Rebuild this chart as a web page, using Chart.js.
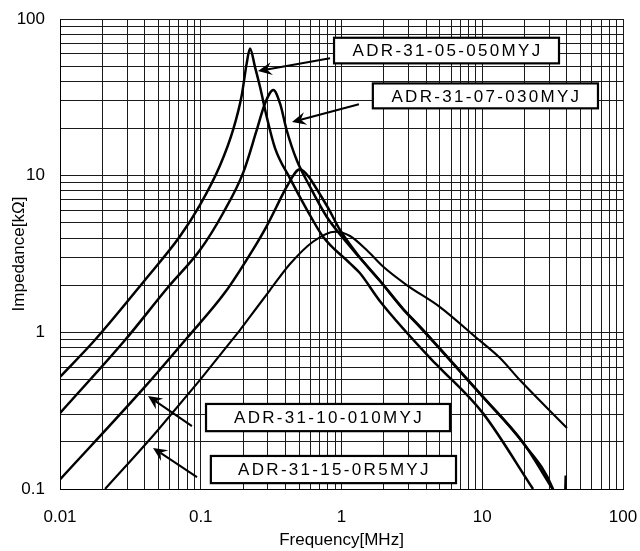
<!DOCTYPE html>
<html>
<head>
<meta charset="utf-8">
<script src="https://cdn.jsdelivr.net/npm/chart.js@4.4.0/dist/chart.umd.min.js"></script>
<style>
  html, body { margin: 0; padding: 0; background: #fff; }
  #wrap { width: 640px; height: 551px; }
</style>
</head>
<body>
<div id="wrap"><canvas id="chart"></canvas></div>
<script>
// --- values (frequency in MHz, impedance in kΩ) ---
const seriesNames = ['ADR-31-05-050MYJ', 'ADR-31-07-030MYJ', 'ADR-31-10-010MYJ', 'ADR-31-15-0R5MYJ'];

const freqA = [0.01, 0.0177, 0.0402, 0.0712, 0.0988, 0.137, 0.1703, 0.1954, 0.212, 0.2239, 0.2428, 0.2636, 0.2941, 0.337, 0.4305, 0.5658, 0.742, 1.149, 1.35, 1.877, 4.4, 5.01, 10.1, 22.96];
const impA  = [0.519, 0.893, 2.16, 4.1, 6.5, 11.6, 19.8, 32.5, 52.1, 64.9, 49.5, 36.9, 23.8, 15.0, 9.6, 6.1, 4.06, 2.756, 2.39, 1.58, 0.665, 0.592, 0.305, 0.1];

const freqB = [0.01, 0.029, 0.0585, 0.0988, 0.1446, 0.2006, 0.2497, 0.286, 0.3279, 0.3657, 0.408, 0.4805, 0.5973, 0.785, 1.025, 1.353, 1.877, 2.735, 3.612, 5.01, 10.1, 19.5, 31.8, 35, 38.3, 39.2];
const impB  = [0.305, 0.893, 1.94, 3.35, 5.8, 10.5, 19.5, 28.9, 35.2, 28.9, 19.5, 12.58, 8.5, 5.47, 4.0, 2.98, 2.125, 1.408, 1.081, 0.782, 0.3865, 0.1966, 0.1, 0.075, 0.07, 0.122];

const freqC = [0.01, 0.0402, 0.0798, 0.149, 0.2362, 0.2941, 0.3859, 0.408, 0.507, 0.5973, 0.6307, 0.805, 0.9757, 1.353, 1.877, 2.735, 3.612, 5.01, 10.1, 19.5, 31.6];
const impC  = [0.115, 0.45, 0.92, 1.8, 3.4, 4.77, 7.74, 8.5, 10.97, 9.6, 8.9, 6.2, 4.5, 3.0, 2.135, 1.415, 1.088, 0.787, 0.389, 0.198, 0.1];

const freqD = [0.0209, 0.0497, 0.19, 0.2239, 0.3105, 0.4305, 0.6307, 0.899, 1.149, 1.51, 1.982, 2.906, 5.01, 9.13, 13.37, 18.5, 40];
const impD  = [0.1, 0.238, 1.034, 1.258, 1.862, 2.73, 3.8, 4.385, 4.12, 3.35, 2.62, 2.004, 1.45, 0.92, 0.686, 0.496, 0.245];

// axis ticks
const xMajorTicks = [0.01, 0.1, 1, 10, 100];
const xTickLabels = ['0.01', '0.1', '1', '10', '100'];
const yMajorTicks = [0.1, 1, 10, 100];
const yTickLabels = ['0.1', '1', '10', '100'];
const minorSteps = [2, 3, 4, 5, 6, 7, 8, 9];

// callout boxes [fLeft, fRight, zTop, zBottom] and arrows [fFrom, zFrom, fTip, zTip], in data units
const boxRanges = [
    [0.885, 35.1, 75.9, 52.1],
    [1.67, 66.4, 38.8, 26.9],
    [0.109, 5.9, 0.349, 0.234],
    [0.118, 6.51, 0.1625, 0.109]
];
const arrowRanges = [
    [0.829, 56.2, 0.255, 46.5],
    [1.33, 28.6, 0.445, 22.0],
    [0.0866, 0.252, 0.0422, 0.392],
    [0.094, 0.119, 0.0458, 0.183]
];

// ==========================================
function toPoints(xs, ys) {
    return xs.map((v, i) => ({ x: v, y: ys[i] }));
}

function gridValues(majors) {
    const out = [];
    majors.forEach((m, i) => {
        out.push(m);
        if (i < majors.length - 1) minorSteps.forEach(s => out.push(m * s));
    });
    return out;
}

function drawArrow(ctx, x0, y0, x1, y1) {
    const dx = x1 - x0, dy = y1 - y0;
    const len = Math.hypot(dx, dy);
    const ux = dx / len, uy = dy / len;
    const nx = -uy, ny = ux;
    const headLen = 14, headW = 6.5, notch = 9;

    ctx.beginPath();
    ctx.moveTo(x0, y0);
    ctx.lineTo(x1 - ux * notch, y1 - uy * notch);
    ctx.lineWidth = 2;
    ctx.strokeStyle = '#000';
    ctx.stroke();

    ctx.beginPath();
    ctx.moveTo(x1, y1);
    ctx.lineTo(x1 - ux * headLen + nx * headW, y1 - uy * headLen + ny * headW);
    ctx.lineTo(x1 - ux * notch, y1 - uy * notch);
    ctx.lineTo(x1 - ux * headLen - nx * headW, y1 - uy * headLen - ny * headW);
    ctx.closePath();
    ctx.fillStyle = '#000';
    ctx.fill();
}

const calloutPlugin = {
    id: 'callouts',
    afterDatasetsDraw(chart) {
        const { ctx } = chart;
        const xs = chart.scales.x, ys = chart.scales.y;
        ctx.save();

        arrowRanges.forEach(a => {
            drawArrow(ctx,
                xs.getPixelForValue(a[0]), ys.getPixelForValue(a[1]),
                xs.getPixelForValue(a[2]), ys.getPixelForValue(a[3]));
        });

        boxRanges.forEach((b, i) => {
            const left = xs.getPixelForValue(b[0]);
            const right = xs.getPixelForValue(b[1]);
            const top = ys.getPixelForValue(b[2]);
            const bottom = ys.getPixelForValue(b[3]);
            ctx.fillStyle = '#fff';
            ctx.fillRect(left, top, right - left, bottom - top);
            ctx.lineWidth = 2.2;
            ctx.strokeStyle = '#000';
            ctx.strokeRect(left, top, right - left, bottom - top);
            ctx.fillStyle = '#000';
            ctx.font = '17px "Liberation Sans", Arial, sans-serif';
            ctx.letterSpacing = '2.3px';
            ctx.textAlign = 'center';
            ctx.textBaseline = 'middle';
            ctx.fillText(seriesNames[i], (left + right) / 2 + 1, (top + bottom) / 2 + 1);
        });

        ctx.restore();
    }
};

const lineStyle = {
    borderColor: '#000',
    borderWidth: 2.5,
    pointRadius: 0,
    fill: false,
    cubicInterpolationMode: 'monotone'
};

const labelFont = { family: '"Liberation Sans", Arial, sans-serif', size: 17 };
const gridStyle = { color: '#1a1a1a', lineWidth: 1, drawTicks: false };

new Chart(document.getElementById('chart'), {
    type: 'line',
    data: {
        datasets: [
            { label: seriesNames[0], data: toPoints(freqA, impA), ...lineStyle },
            { label: seriesNames[1], data: toPoints(freqB, impB), ...lineStyle },
            { label: seriesNames[2], data: toPoints(freqC, impC), ...lineStyle },
            { label: seriesNames[3], data: toPoints(freqD, impD), ...lineStyle, borderWidth: 2.1 }
        ]
    },
    options: {
        responsive: true,
        maintainAspectRatio: false,
        animation: false,
        layout: { padding: { top: 19, right: 17, left: 0, bottom: 0 } },
        plugins: { legend: { display: false }, tooltip: { enabled: false } },
        scales: {
            x: {
                type: 'logarithmic',
                min: 0.01,
                max: 100,
                afterBuildTicks: axis => { axis.ticks = gridValues(xMajorTicks).map(v => ({ value: v })); },
                afterFit: axis => {
                    axis.height = 62;
                    axis.paddingLeft = 0;
                    axis.paddingRight = 0;
                },
                ticks: {
                    autoSkip: false,
                    maxRotation: 0,
                    padding: 18,
                    color: '#000',
                    font: labelFont,
                    callback: value => {
                        const i = xMajorTicks.indexOf(value);
                        return i >= 0 ? xTickLabels[i] : '';
                    }
                },
                grid: gridStyle,
                border: { color: '#000', width: 1 },
                title: {
                    display: true,
                    text: 'Frequency[MHz]',
                    color: '#000',
                    font: labelFont,
                    padding: { top: 0, bottom: 0 }
                }
            },
            y: {
                type: 'logarithmic',
                min: 0.1,
                max: 100,
                afterBuildTicks: axis => { axis.ticks = gridValues(yMajorTicks).map(v => ({ value: v })); },
                afterFit: axis => {
                    axis.width = 60;
                    axis.paddingTop = 0;
                    axis.paddingBottom = 0;
                },
                ticks: {
                    autoSkip: false,
                    padding: 15,
                    color: '#000',
                    font: labelFont,
                    callback: value => {
                        const i = yMajorTicks.indexOf(value);
                        return i >= 0 ? yTickLabels[i] : '';
                    }
                },
                grid: gridStyle,
                border: { color: '#000', width: 1 },
                title: {
                    display: true,
                    text: 'Impedance[kΩ]',
                    color: '#000',
                    font: labelFont,
                    padding: { top: 9, bottom: 0 }
                }
            }
        }
    },
    plugins: [calloutPlugin]
});
</script>
</body>
</html>
